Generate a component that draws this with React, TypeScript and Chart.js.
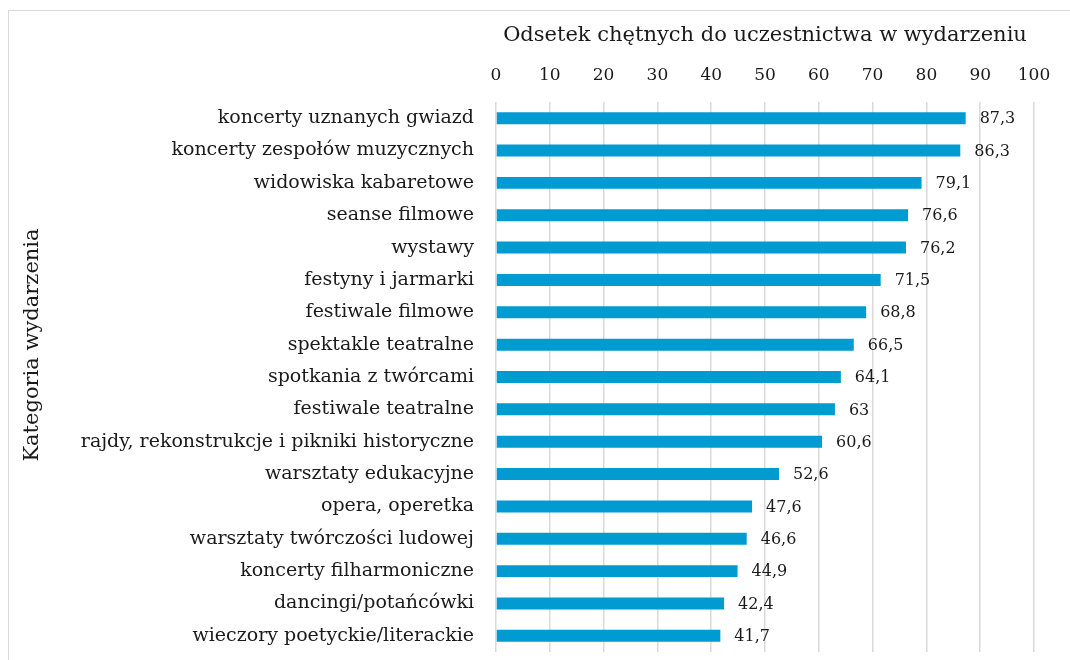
import React, { useEffect, useRef } from "react";
import { Chart, registerables } from "chart.js";

Chart.register(...registerables);

const categories = [
  "koncerty uznanych gwiazd",
  "koncerty zespołów muzycznych",
  "widowiska kabaretowe",
  "seanse filmowe",
  "wystawy",
  "festyny i jarmarki",
  "festiwale filmowe",
  "spektakle teatralne",
  "spotkania z twórcami",
  "festiwale teatralne",
  "rajdy, rekonstrukcje i pikniki historyczne",
  "warsztaty edukacyjne",
  "opera, operetka",
  "warsztaty twórczości ludowej",
  "koncerty filharmoniczne",
  "dancingi/potańcówki",
  "wieczory poetyckie/literackie",
];

const values = [87.3, 86.3, 79.1, 76.6, 76.2, 71.5, 68.8, 66.5, 64.1, 63, 60.6, 52.6, 47.6, 46.6, 44.9, 42.4, 41.7];

const xTitle = "Odsetek chętnych do uczestnictwa w wydarzeniu";
const yTitle = "Kategoria wydarzenia";

const FONT = "'DejaVu Serif', serif";
const TEXT = "#1a1a1a";

const valueLabels = {
  id: "valueLabels",
  afterDatasetsDraw(chart: any) {
    const ctx = chart.ctx;
    const meta = chart.getDatasetMeta(0);
    ctx.save();
    ctx.font = `16px ${FONT}`;
    ctx.fillStyle = TEXT;
    ctx.textAlign = "left";
    ctx.textBaseline = "middle";
    meta.data.forEach((el: any, i: number) => {
      const txt = String(values[i]).replace(".", ",");
      ctx.fillText(txt, el.x + 14, el.y + 1);
    });
    ctx.restore();
  },
};

const yTitlePlugin = {
  id: "yTitlePlugin",
  afterDraw(chart: any) {
    const ctx = chart.ctx;
    const area = chart.chartArea;
    const yScale = chart.scales.y;
    ctx.save();
    ctx.font = `21px ${FONT}`;
    ctx.fillStyle = TEXT;
    ctx.textAlign = "center";
    ctx.textBaseline = "middle";
    ctx.translate(yScale.left + 13, (area.top + area.bottom) / 2 - 32);
    ctx.rotate(-Math.PI / 2);
    ctx.fillText(yTitle, 0, 0);
    ctx.restore();
  },
};

export default function App() {
  const ref = useRef<HTMLCanvasElement>(null);
  useEffect(() => {
    if (!ref.current) return;
    const chart = new Chart(ref.current, {
      type: "bar",
      data: {
        labels: categories,
        datasets: [
          {
            data: values,
            backgroundColor: "#009BD0",
            barPercentage: 0.37,
            categoryPercentage: 1,
          },
        ],
      },
      options: {
        indexAxis: "y",
        animation: false,
        responsive: false,
        maintainAspectRatio: false,
        layout: { padding: { left: 11, right: 36, top: 12, bottom: 8 } },
        plugins: { legend: { display: false }, tooltip: { enabled: false } },
        scales: {
          x: {
            position: "top",
            min: 0,
            max: 100,
            ticks: { stepSize: 10, font: { family: FONT, size: 17 }, color: TEXT, padding: 16, maxRotation: 0 },
            grid: { color: "#d9d9d9", lineWidth: 1.5, drawTicks: false },
            border: { display: false },
            title: { display: true, text: xTitle, font: { family: FONT, size: 21 }, color: TEXT, padding: 0 },
            afterFit: (s: any) => {
              s.height = 79;
              s.paddingLeft = 0;
              s.paddingRight = 0;
            },
          },
          y: {
            ticks: { font: { family: FONT, size: 19 }, color: TEXT, padding: 22, autoSkip: false },
            grid: { display: false, drawTicks: false },
            border: { display: false },
            title: { display: false, text: yTitle },
            afterFit: (s: any) => {
              s.width = 476;
              s.paddingTop = 0;
              s.paddingBottom = 0;
            },
          },
        },
      },
      plugins: [valueLabels, yTitlePlugin],
    });
    return () => chart.destroy();
  }, []);

  return (
    <div style={{ position: "fixed", left: 0, top: 0, width: 1070, height: 660, overflow: "hidden", background: "#fff" }}>
      <div
        style={{
          position: "absolute",
          left: 8,
          top: 10,
          width: 1200,
          height: 800,
          borderLeft: "1px solid #d9d9d9",
          borderTop: "1px solid #d9d9d9",
        }}
      />
      <canvas ref={ref} width={1061} height={649} style={{ position: "absolute", left: 9, top: 11, width: 1061, height: 649 }} />
    </div>
  );
}
